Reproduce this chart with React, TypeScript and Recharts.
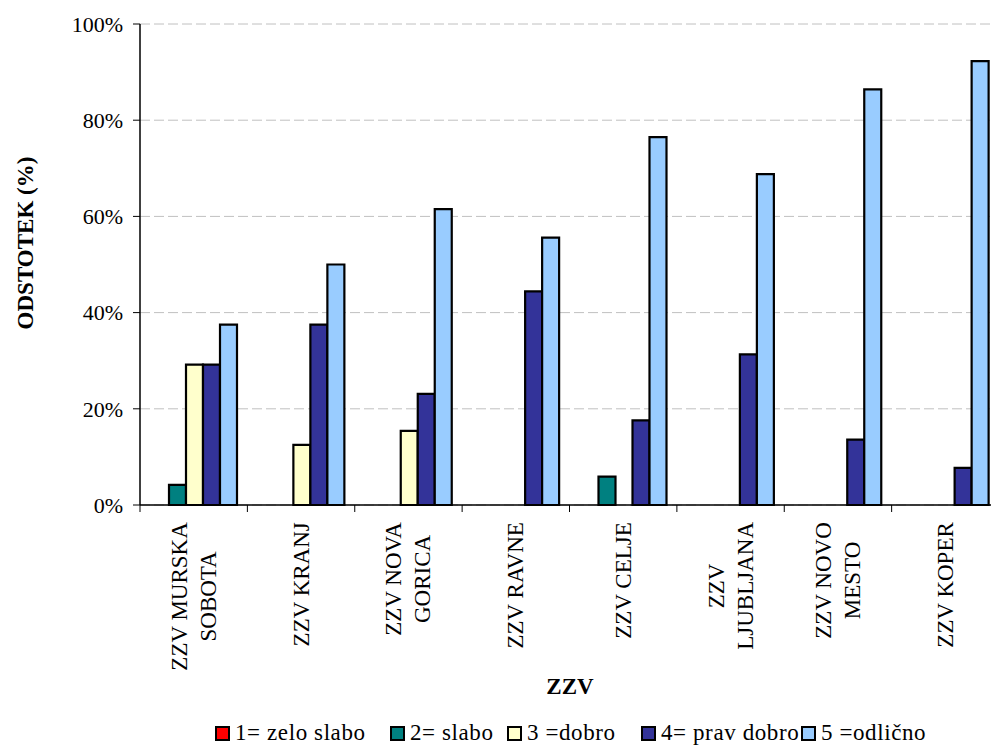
import { BarChart, Bar, XAxis, YAxis, CartesianGrid } from 'recharts';

// ZZV regions (line breaks as in the original labels)
const categories = [
  'ZZV MURSKA\nSOBOTA',
  'ZZV KRANJ',
  'ZZV NOVA\nGORICA',
  'ZZV RAVNE',
  'ZZV CELJE',
  'ZZV\nLJUBLJANA',
  'ZZV NOVO\nMESTO',
  'ZZV KOPER',
];

// percentages per grade
const zeloSlabo = [0, 0, 0, 0, 0, 0, 0, 0];
const slabo = [4.2, 0, 0, 0, 5.9, 0, 0, 0];
const dobro = [29.2, 12.5, 15.4, 0, 0, 0, 0, 0];
const pravDobro = [29.2, 37.5, 23.1, 44.4, 17.6, 31.3, 13.6, 7.7];
const odlicno = [37.5, 50, 61.5, 55.6, 76.5, 68.8, 86.4, 92.3];

const yTicks = [0, 20, 40, 60, 80, 100];

const series = [
  { key: 'zeloSlabo', name: '1= zelo slabo', color: '#FF0000', values: zeloSlabo },
  { key: 'slabo', name: '2= slabo', color: '#008080', values: slabo },
  { key: 'dobro', name: '3 =dobro', color: '#FFFFCC', values: dobro },
  { key: 'pravDobro', name: '4= prav dobro', color: '#333399', values: pravDobro },
  { key: 'odlicno', name: '5 =odlično', color: '#99CCFF', values: odlicno },
];

const data = categories.map((name, i) => {
  const row: Record<string, string | number> = { name };
  series.forEach(s => { row[s.key] = s.values[i]; });
  return row;
});

const FONT = "'Liberation Serif', 'Times New Roman', serif";
const CHART_W = 1000;
const CHART_H = 747;
const Y_W = 140;
const M_RIGHT = 1;
const PLOT_W = CHART_W - Y_W - M_RIGHT;
const BAND = PLOT_W / categories.length;
const X_FONT = 23;

const ctx = typeof document !== 'undefined' ? document.createElement('canvas').getContext('2d') : null;
const textWidth = (s: string, font: string) => {
  if (!ctx) return s.length * 11;
  ctx.font = font;
  return ctx.measureText(s).width;
};

const CategoryTick = (props: any) => {
  const { x, y, payload } = props;
  const lines = String(payload.value).split('\n');
  const longest = Math.max(...lines.map(l => textWidth(l, `${X_FONT}px ${FONT}`)));
  const uc = -(17 + longest / 2);
  const bx = x - BAND / 2;
  return (
    <g>
      <line x1={bx} y1={y} x2={bx} y2={y + 7} stroke="#000" strokeWidth={1} />
      <text
        transform={`translate(${x},${y}) rotate(-90)`}
        textAnchor="middle"
        fontSize={X_FONT}
        fontFamily={FONT}
        fill="#000"
      >
        {lines.map((l, i) => (
          <tspan key={i} x={uc} y={(i - (lines.length - 1) / 2) * 29} dominantBaseline="central">
            {l}
          </tspan>
        ))}
      </text>
    </g>
  );
};

const legendWidths = [175, 117, 134, 160, 180];

export default function App() {
  return (
    <div
      style={{
        position: 'absolute',
        left: 0,
        top: 0,
        width: 991,
        height: 747,
        overflow: 'hidden',
        background: '#fff',
        fontFamily: FONT,
      }}
    >
      <BarChart
        width={CHART_W}
        height={CHART_H}
        data={data}
        margin={{ top: 24, right: M_RIGHT, left: 0, bottom: 0 }}
        barCategoryGap={12}
        barGap={0}
        style={{ fontFamily: FONT }}
      >
        <CartesianGrid vertical={false} stroke="#c0c0c0" strokeDasharray="10 4" />
        <XAxis
          dataKey="name"
          interval={0}
          height={242}
          tickLine={false}
          tickSize={0}
          tickMargin={0}
          axisLine={{ stroke: '#000', strokeWidth: 1.5 }}
          tick={<CategoryTick />}
        />
        <YAxis
          width={Y_W}
          domain={[0, 100]}
          ticks={yTicks}
          tickFormatter={(v: number) => `${v}%`}
          axisLine={{ stroke: '#000', strokeWidth: 1.5 }}
          tickLine={{ stroke: '#000' }}
          tickSize={7}
          tickMargin={10}
          tick={{ fill: '#000', fontSize: 22, fontFamily: FONT }}
        />
        {series.map(s => (
          <Bar
            key={s.key}
            dataKey={s.key}
            name={s.name}
            fill={s.color}
            stroke="#000"
            strokeWidth={2.2}
            isAnimationActive={false}
          />
        ))}
        <text
          transform="translate(25,243) rotate(-90)"
          textAnchor="middle"
          dominantBaseline="central"
          fontSize={23}
          fontWeight="bold"
          fontFamily={FONT}
          fill="#000"
        >
          ODSTOTEK (%)
        </text>
        <text
          x={570}
          y={686}
          textAnchor="middle"
          dominantBaseline="central"
          fontSize={23}
          fontWeight="bold"
          fontFamily={FONT}
          fill="#000"
        >
          ZZV
        </text>
      </BarChart>
      <div
        style={{
          position: 'absolute',
          left: 215,
          top: 720,
          display: 'flex',
          alignItems: 'center',
          fontSize: 23,
          lineHeight: '26px',
          color: '#000',
        }}
      >
        {series.map((s, i) => (
          <div key={s.key} style={{ width: legendWidths[i], display: 'flex', alignItems: 'center' }}>
            <span
              style={{
                display: 'inline-block',
                width: 11,
                height: 11,
                background: s.color,
                border: '2px solid #000',
                marginRight: 5,
              }}
            />
            <span style={{ letterSpacing: 0.6, whiteSpace: 'nowrap' }}>{s.name}</span>
          </div>
        ))}
      </div>
    </div>
  );
}
